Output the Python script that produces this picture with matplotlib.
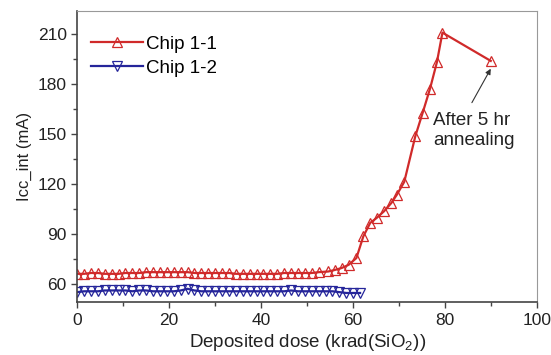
import matplotlib
matplotlib.use('Agg')
from matplotlib import pyplot as plt

plt.rcParams['font.family'] = ['Liberation Sans', 'DejaVu Sans']
plt.rcParams['mathtext.fontset'] = 'custom'
plt.rcParams['mathtext.rm'] = 'Liberation Sans'

# Chip 1-1 (Icc_int vs dose)
dose_11 = [0, 1.5, 3, 4.5, 6, 7.5, 9, 10.5, 12, 13.5, 15, 16.5, 18, 19.5, 21,
           22.5, 24, 25.5, 27, 28.5, 30, 31.5, 33, 34.5, 36, 37.5, 39, 40.5,
           42, 43.5, 45, 46.5, 48, 49.5, 51, 52.5, 54.6, 56.1, 57.5, 59.0,
           60.7, 62.2, 63.7, 65.1, 66.7, 68.3, 69.5, 71.1, 73.5, 75.1, 76.7,
           78.2, 79.4, 89.9]
icc_11 = [66, 66, 66.5, 66.5, 66, 66, 66, 66.5, 66.5, 66.5, 67, 67, 67, 67,
          67, 67, 67, 66.5, 66.5, 66.5, 66.5, 66.5, 66.5, 66, 66, 66, 66, 66,
          66, 66, 66.5, 66.5, 66.5, 66.5, 66.5, 67, 67.4, 68.4, 69.5, 71.4,
          75.5, 88.5, 96.6, 99.6, 103.6, 108.6, 113.6, 121.3, 148.7, 162.8,
          177.3, 193.3, 211, 194]

# Chip 1-2
dose_12 = [0, 1.5, 3, 4.5, 6, 7.5, 9, 10.5, 12, 13.5, 15, 16.5, 18, 19.5, 21,
           22.5, 24, 25.5, 27, 28.5, 30, 31.5, 33, 34.5, 36, 37.5, 39, 40.5,
           42, 43.5, 45, 46.5, 48, 49.5, 51, 52.5, 54, 55.5, 57, 58.5, 60, 61.5]
icc_12 = [55, 55.5, 55.5, 55.5, 56, 56, 56, 56, 55.5, 56, 56, 55.5, 55.5,
          55.5, 55.5, 56, 57, 56, 55.5, 55.5, 55.5, 55.5, 55.5, 55.5, 55.5,
          55.5, 55.5, 55.5, 55.5, 55.5, 55.5, 56, 55.5, 55.5, 55.5, 55.5,
          55.5, 55.5, 55, 54.5, 54.5, 54.5]

red = '#d02a2a'
blue = '#25259a'

fig = plt.figure(figsize=(5.51, 3.55), dpi=100)
ax = fig.add_axes([0.14, 0.149, 0.835, 0.82])

ax.plot(dose_11, icc_11, color=red, lw=1.6, marker='^', ms=7,
        mfc='none', mec=red, mew=0.9, label='Chip 1-1')
ax.plot(dose_12, icc_12, color=blue, lw=1.6, marker='v', ms=7,
        mfc='none', mec=blue, mew=0.9, label='Chip 1-2')

ax.set_xlim(0, 100)
ax.set_ylim(49, 224)
ax.set_xticks([0, 20, 40, 60, 80, 100])
ax.set_xticks(range(10, 100, 20), minor=True)
ax.set_yticks([60, 90, 120, 150, 180, 210])
ax.set_yticks([75, 105, 135, 165, 195], minor=True)
ax.tick_params(labelsize=12.5, color='#444444', length=4, width=1,
               labelcolor='#222222')
ax.tick_params(which='minor', color='#444444', length=3, width=1)
for s in ['top', 'right']:
    ax.spines[s].set_color('#999999')
    ax.spines[s].set_linewidth(0.8)
for s in ['left', 'bottom']:
    ax.spines[s].set_color('#444444')
    ax.spines[s].set_linewidth(1.2)

ax.set_xlabel('Deposited dose (krad(SiO$_2$))', fontsize=13.5, color='#222222',
              labelpad=3)
ax.set_ylabel('Icc_int (mA)', fontsize=12, color='#222222', labelpad=4)

# annotation for the annealed point
ax.text(77.3, 152.2, 'After 5 hr\nannealing', fontsize=13.5, color='#222222',
        va='center', ha='left', linespacing=1.2)
ax.annotate('', xy=(89.9, 189.3), xytext=(85.8, 168.9),
            arrowprops=dict(arrowstyle='-|>', color='#333333', lw=0.8,
                            shrinkA=0, shrinkB=0, mutation_scale=8))

ax.legend(loc='upper left', bbox_to_anchor=(0.03, 0.915), frameon=False,
          fontsize=13.5, handlelength=2.8, handletextpad=0.15,
          labelspacing=0.35, borderaxespad=0, borderpad=0)

fig.savefig('out.png', dpi=100)
